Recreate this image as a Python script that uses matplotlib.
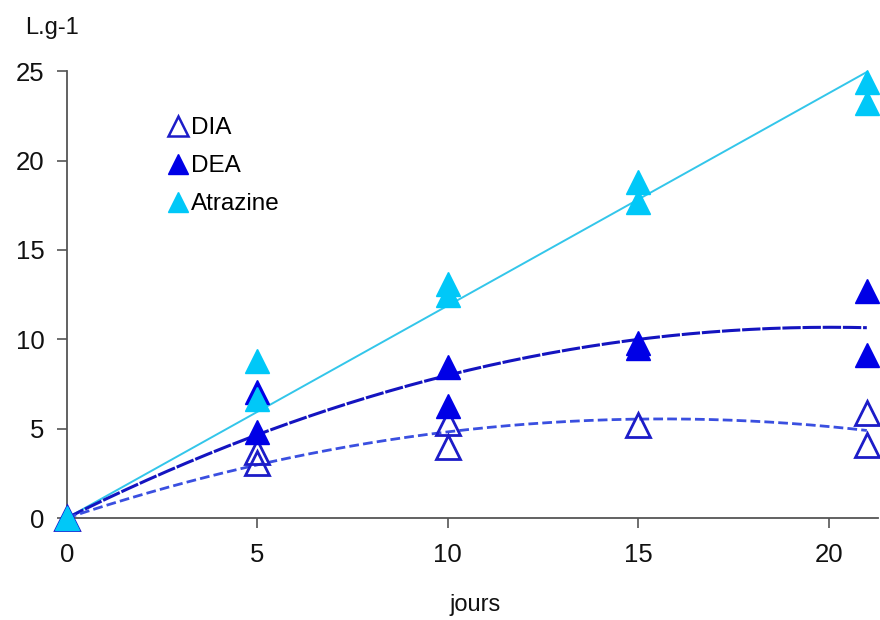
import matplotlib
matplotlib.use("Agg")
import matplotlib.pyplot as plt
from matplotlib.lines import Line2D
import numpy as np

plt.rcParams['font.family'] = ['Liberation Sans', 'DejaVu Sans']

# données (jours, L.g-1)
jours_dia = [0, 5, 5, 10, 10, 15, 21, 21]
dia = [0, 3.7, 3.1, 5.3, 4.0, 5.2, 5.9, 4.1]

jours_dea = [0, 5, 5, 10, 10, 15, 15, 21, 21]
dea = [0, 7.05, 4.8, 8.45, 6.25, 9.8, 9.5, 12.7, 9.1]

jours_atr = [0, 5, 5, 10, 10, 15, 15, 21, 21]
atrazine = [0, 8.8, 6.65, 13.1, 12.5, 18.8, 17.7, 24.4, 23.2]

c_dia = '#1c1cc8'
c_dia_line = '#3a4fe0'
c_dea = '#0000e6'
c_dea_line = '#1414c0'
c_atr = '#00c8f8'
c_atr_line = '#33c6ea'


def fit_origine(x, y, degre):
    # moindres carrés sans ordonnée à l'origine
    x = np.asarray(x, float)
    y = np.asarray(y, float)
    A = np.column_stack([x ** k for k in range(1, degre + 1)])
    coef = np.linalg.lstsq(A, y, rcond=None)[0]
    return lambda t: sum(c * t ** (k + 1) for k, c in enumerate(coef))


fig = plt.figure(figsize=(8.8, 6.2), dpi=100)
ax = fig.add_axes([0.076, 0.1645, 0.922, 0.7205])

t = np.linspace(0, 21, 200)

# courbes de tendance
ax.plot(t, fit_origine(jours_atr, atrazine, 1)(t), color=c_atr_line, lw=1.4, zorder=2)
ax.plot(t, fit_origine(jours_dea, dea, 2)(t), color=c_dea_line, lw=2.2,
        linestyle=(0, (6, 0.6)), zorder=2)
ax.plot(t, fit_origine(jours_dia, dia, 2)(t), color=c_dia_line, lw=2.0,
        linestyle=(0, (3.5, 1.5)), zorder=2)

# points
ms = 17
ax.plot(jours_dia, dia, '^', ms=ms, mfc='none', mec=c_dia, mew=2.0,
        linestyle='none', clip_on=False, zorder=3)
ax.plot(jours_dea, dea, '^', ms=ms, color=c_dea, linestyle='none',
        clip_on=False, zorder=4)
ax.plot(jours_atr, atrazine, '^', ms=ms, color=c_atr, linestyle='none',
        clip_on=False, zorder=5)

ax.set_xlim(0, 21.3)
ax.set_ylim(0, 25)
ax.set_xticks([0, 5, 10, 15, 20])
ax.set_yticks([0, 5, 10, 15, 20, 25])

for s in ['top', 'right']:
    ax.spines[s].set_visible(False)
for s in ['left', 'bottom']:
    ax.spines[s].set_color('#555555')
    ax.spines[s].set_linewidth(1.3)

ax.tick_params(axis='both', direction='out', length=7, width=1.2,
               color='#555555', labelsize=18.5, pad=9, labelcolor='#111111')
ax.tick_params(axis='x', pad=11)

# légende
handles = [
    Line2D([], [], marker='^', ms=14, mfc='none', mec=c_dia, mew=1.8, linestyle='none'),
    Line2D([], [], marker='^', ms=14, color=c_dea, linestyle='none'),
    Line2D([], [], marker='^', ms=14, color=c_atr, linestyle='none'),
]
leg = ax.legend(handles, ['DIA', 'DEA', 'Atrazine'], loc='upper left',
                bbox_to_anchor=(156 / 880, 1 - 105 / 620), bbox_transform=fig.transFigure,
                frameon=False, fontsize=17.5, handlelength=0.8, handletextpad=0.15,
                labelspacing=0.66, borderpad=0)

fig.text(25 / 880, 1 - 28 / 620, 'L.g-1', fontsize=17, va='center', ha='left',
         color='#111111')
fig.text(475 / 880, 1 - 605 / 620, 'jours', fontsize=17, va='center', ha='center',
         color='#111111')

fig.savefig('out.png', dpi=100)
